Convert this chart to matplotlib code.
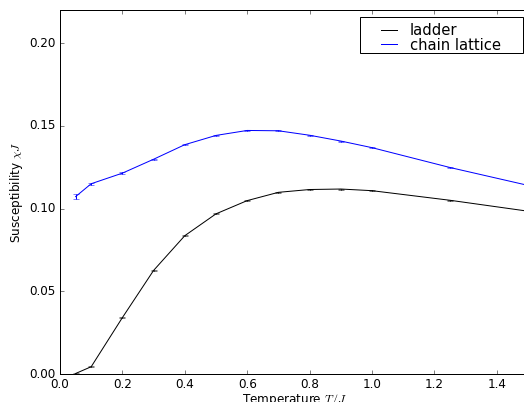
import matplotlib
matplotlib.use("Agg")
import matplotlib.pyplot as plt
from matplotlib.lines import Line2D
from matplotlib.patches import Rectangle

T = [0.05, 0.1, 0.2, 0.3, 0.4, 0.5, 0.6, 0.7, 0.8, 0.9, 1.0, 1.25, 1.5]
ladder = [0.0003, 0.0044, 0.0341, 0.0626, 0.0836, 0.0968, 0.1048, 0.1098, 0.1115, 0.1118, 0.1108, 0.1050, 0.0984]
ladder_err = [0.0003, 0.0004, 0.0004, 0.0004, 0.0004, 0.0003, 0.0003, 0.0003, 0.0003, 0.0003, 0.0003, 0.0003, 0.0003]
chain = [0.1072, 0.1150, 0.1214, 0.1298, 0.1386, 0.1442, 0.1472, 0.1470, 0.1443, 0.1408, 0.1368, 0.1248, 0.1140]
chain_err = [0.0014, 0.0006, 0.0004, 0.0004, 0.0004, 0.0003, 0.0003, 0.0003, 0.0003, 0.0003, 0.0003, 0.0003, 0.0003]
labels = ["ladder", "chain lattice"]
colors = ["k", "b"]

plt.style.use("classic")
W, H = 524, 402
fig = plt.figure(figsize=(W / 72, H / 72), dpi=72, facecolor="white")
ax = fig.add_axes([60 / W, (H - 374) / H, 468 / W, 364 / H])

ax.errorbar(T, ladder, yerr=ladder_err, color=colors[0], ecolor=colors[0],
            capsize=3, lw=1.0)
ax.errorbar(T, chain, yerr=chain_err, color=colors[1], ecolor=colors[1],
            capsize=3, lw=1.0)

ax.set_xlim(0, 1.5)
ax.set_ylim(0, 0.22)
ax.set_xticks([0.0, 0.2, 0.4, 0.6, 0.8, 1.0, 1.2, 1.4])
ax.set_yticks([0.00, 0.05, 0.10, 0.15, 0.20])
ax.tick_params(labelsize=12)
ax.set_xlabel("Temperature $T/J$", fontsize=12, labelpad=1)
ax.set_ylabel("Susceptibility $\\chi J$", fontsize=12)

handles = [Line2D([], [], color=c, lw=1.0) for c in colors]
leg = ax.legend(handles, labels, loc="upper right",
                bbox_to_anchor=(508 / W, (H - 16) / H),
                bbox_transform=fig.transFigure,
                fontsize=14.8, handlelength=1.7, handletextpad=0.55,
                borderpad=0.0, labelspacing=-0.05, frameon=False)
leg.set_zorder(6)

fig.canvas.draw()
bb = leg.get_window_extent()
x0, x1 = bb.x0 - 16, 523.0
y0, y1 = H - 53.0, H - 17.3
rect = Rectangle((x0 / W, y0 / H), (x1 - x0) / W, (y1 - y0) / H,
                 transform=fig.transFigure, facecolor="white",
                 edgecolor="k", lw=1.0, zorder=5, clip_on=False)
ax.add_patch(rect)

fig.savefig("out.png", dpi=72, facecolor="white")
